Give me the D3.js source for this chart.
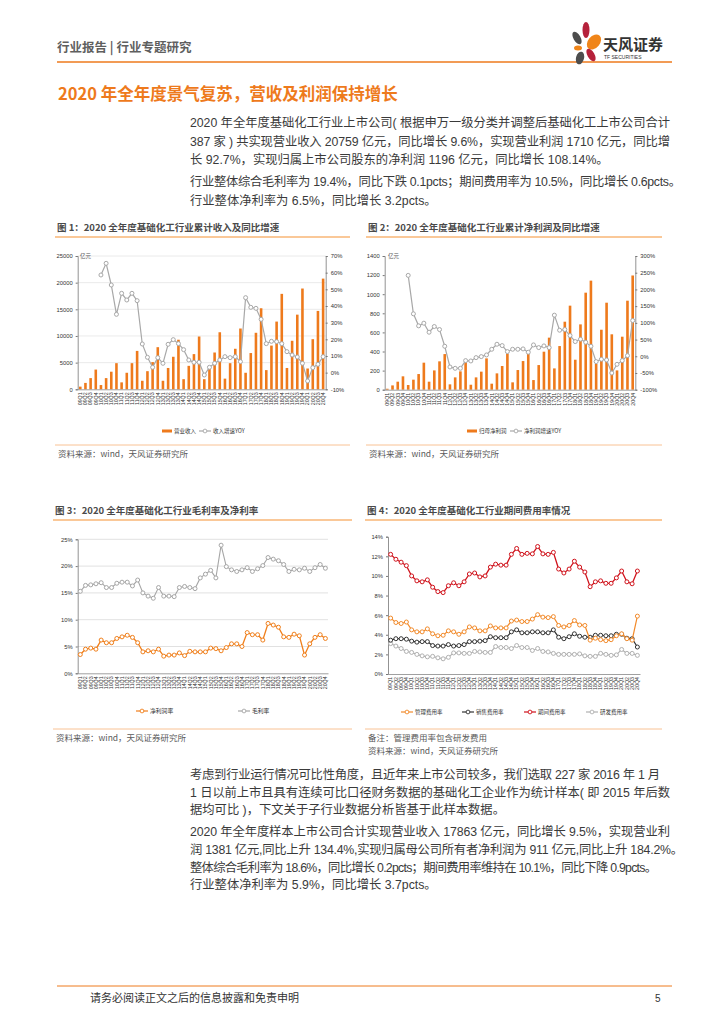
<!DOCTYPE html>
<html><head><meta charset="utf-8">
<script src="https://cdn.jsdelivr.net/npm/d3@7/dist/d3.min.js"></script>
<style>body{margin:0;background:#fff}svg{display:block}</style>
</head><body>
<script>
const quarters = ["09Q1","09Q2","09Q3","09Q4","10Q1","10Q2","10Q3","10Q4","11Q1","11Q2","11Q3","11Q4",
"12Q1","12Q2","12Q3","12Q4","13Q1","13Q2","13Q3","13Q4","14Q1","14Q2","14Q3","14Q4",
"15Q1","15Q2","15Q3","15Q4","16Q1","16Q2","16Q3","16Q4","17Q1","17Q2","17Q3","17Q4",
"18Q1","18Q2","18Q3","18Q4","19Q1","19Q2","19Q3","19Q4","20Q1","20Q2","20Q3","20Q4"];
const revenue = [500,1200,2100,3700, 800,2100,3300,4900, 1300,3100,4900,7200, 1600,3400,5100,7900,
1600,4000,6100,9300, 1900,4400,6600,9900, 1900,3800,6900,10700, 2000,4900,7600,11400,
3100,6800,10600,15200, 3600,8200,12700,17900, 4000,9100,14000,18900, 3900,9400,14700,20759];
const revenueYoY = [null,null,null,null, 58.6,65.6,52.6,35, 47.6,43.6,47.6,43.2, 17.2,9.2,3.2,9,
5.6,17,19.8,17.4, 13.8,7.6,6.2,6.2, -1.4,3.2,5.6,7.6, 9.6,9,9.6,6.6, 45,39.2,38.6,32,
17.4,18.8,18.6,17.4, 12.6,10.6,9.4,5.6, -5,3,5,9.6];
const profit = [10,45,84,140, 49,105,164,283, 84,202,297,373, 56,129,192,286, 52,129,189,328,
63,171,248,377, 77,206,300,380, 101,258,398,545, 223,457,712,880, 314,684,1016,1142,
270,628,911,580, 202,555,932,1196];
const profitYoY = [null,null,null,null, 242,127,91,99, 72,89,80,30, -32,-36,-36,-13, -14,-4,-1,4,
21,36,32,14, 21,21,22,12, 34,26,31,26, 123,78,80,62, 44,51,42,30, -16,-9,-11,-50, -24,-13,2,107];
const grossMargin = [15.3,16.4,16.5,16.7,16.9,16.0,16.0,16.8,17.0,17.0,16.3,17.4,15.0,14.4,14.0,16.0,
14.4,14.4,14.3,16.0,16.2,16.0,15.8,17.8,18.5,19.2,17.8,23.9,19.9,19.3,19.0,19.3,19.7,19.0,19.5,20.1,
21.6,21.3,21.0,20.3,19.0,19.4,19.3,19.6,19.0,19.7,20.3,19.6];
const netMargin = [3.5,4.5,4.7,4.5,6.2,5.7,5.7,6.5,6.8,7.1,6.7,5.7,4.0,4.2,4.0,4.5,3.2,3.4,3.4,3.8,
3.3,4.1,4.0,4.0,4.0,4.7,4.6,4.2,4.8,5.5,5.5,5.0,7.6,7.2,7.2,6.2,9.3,9.0,8.6,6.8,6.7,7.3,7.0,3.4,
5.5,6.7,7.2,6.5];
const periodRate = [12.2,11.7,11.4,11.05,10.0,9.5,9.4,9.6,8.85,8.4,8.3,9.0,9.3,9.0,9.4,10.2,10.3,9.9,10.0,
10.9,11.2,11.1,11.1,12.2,12.8,12.2,12.3,12.25,13.0,12.25,12.2,12.4,10.7,10.3,10.7,11.5,10.9,10.4,
8.9,9.4,9.5,9.25,9.25,9.8,10.5,9.4,9.2,10.5];
const mgmtRate = [5.7,5.25,5.15,5.3,4.5,4.3,4.3,4.6,4.1,3.9,3.95,4.4,4.3,4.05,4.3,4.8,4.7,4.4,4.4,4.9,
4.7,4.7,4.7,5.4,5.5,5.35,5.35,5.6,6.05,5.8,5.75,5.85,4.95,4.8,4.95,5.45,5.0,4.95,3.45,3.65,3.5,3.4,
3.5,3.9,4.1,3.6,3.45,5.9];
const salesRate = [3.45,3.6,3.6,3.55,3.35,3.25,3.3,3.3,2.9,2.85,2.85,3.0,2.85,2.9,3.0,3.3,3.3,3.35,3.4,
3.8,3.7,3.7,3.7,4.3,4.5,4.2,4.2,4.3,4.3,4.2,4.2,4.5,3.75,3.6,3.8,4.1,3.85,3.75,3.75,3.95,3.95,3.9,
3.9,4.05,4.05,3.65,3.6,2.75];
const rdRate = [3.1,2.85,2.6,2.3,2.2,2.0,1.85,1.75,1.8,1.65,1.55,1.7,2.15,2.15,2.1,2.1,2.3,2.25,2.2,2.2,
2.8,2.7,2.7,2.6,2.9,2.7,2.7,2.4,2.6,2.3,2.25,2.1,2.0,2.0,2.0,2.0,2.05,1.85,1.8,1.8,2.1,2.0,1.9,1.95,
2.5,2.1,2.1,1.9];
const revTicks = [0,5000,10000,15000,20000,25000];
const revYoYTicks = [-10,0,10,20,30,40,50,60,70];
const profitTicks = [0,200,400,600,800,1000,1200,1400];
const profitYoYTicks = [-100,-50,0,50,100,150,200,250,300];
const marginTicks = [0,5,10,15,20,25];
const expenseTicks = [0,2,4,6,8,10,12,14];

const CJK = "'Noto Sans CJK SC','Noto Sans',sans-serif";
const BODY = "'Liberation Sans','Noto Sans CJK SC',sans-serif";
const LAT = "'Liberation Sans','DejaVu Sans',sans-serif";
const ORANGE = "#EE7A1C", GRAY = "#A8A8A8";

const svg = d3.select("body").append("svg").attr("width",724).attr("height",1024);
svg.append("rect").attr("width",724).attr("height",1024).attr("fill","#fff");

// ---------- header ----------
svg.append("text").attr("x",57).attr("y",52).attr("font-family",CJK).attr("font-size",12.5)
  .attr("font-weight",700).attr("fill","#5f5f5f").text("行业报告 | 行业专题研究");
svg.append("line").attr("x1",57).attr("x2",672).attr("y1",62).attr("y2",62).attr("stroke",ORANGE).attr("stroke-width",1.5);
const logo = svg.append("g");
[[577,38,3.5,7,-30,"#4d4d4d"],[586,30,3.5,8,0,"#b5213b"],[594,42,6,8.5,40,"#f08519"],
 [578,48,4,2.5,0,"#f08519"],[591,55,3.5,7,-30,"#b5213b"],[580,58,4,6.5,15,"#4d4d4d"]].forEach(p=>{
  logo.append("ellipse").attr("cx",p[0]).attr("cy",p[1]).attr("rx",p[2]).attr("ry",p[3])
   .attr("transform",`rotate(${p[4]},${p[0]},${p[1]})`).attr("fill",p[5]);
});
svg.append("text").attr("x",603).attr("y",50).attr("font-family",CJK).attr("font-size",15).attr("font-weight",700)
  .attr("fill","#333").text("天风证券");
svg.append("text").attr("x",604).attr("y",59).attr("font-family",LAT).attr("font-size",5).attr("fill","#333").text("TF SECURITIES");

svg.append("text").attr("x",58).attr("y",100).attr("font-family",CJK).attr("font-size",16.5).attr("font-weight",700)
  .attr("fill",ORANGE).text("2020 年全年度景气复苏，营收及利润保持增长");

// ---------- body text ----------
function para(lines, x, y0, lh, size){
  lines.forEach((l,i)=>{
    const t = svg.append("text").attr("x",x).attr("y",y0+i*lh).attr("font-family",BODY).attr("font-size",size)
      .attr("fill","#3a3a3a").text(l[0]);
    if(l[1]) t.attr("textLength",l[1]-x).attr("lengthAdjust","spacing");
  });
}
para([["2020 年全年度基础化工行业上市公司( 根据申万一级分类并调整后基础化工上市公司合计",670],
      ["387 家 ) 共实现营业收入 20759 亿元，同比增长 9.6%，实现营业利润 1710 亿元，同比增",670],
      ["长 92.7%，实现归属上市公司股东的净利润 1196 亿元，同比增长 108.14%。"]],190,127,18.5,12.3);
para([["行业整体综合毛利率为 19.4%，同比下跌 0.1pcts；期间费用率为 10.5%，同比增长 0.6pcts。",681],
      ["行业整体净利率为 6.5%，同比增长 3.2pcts。"]],190,186,18.5,12.3);
para([["考虑到行业运行情况可比性角度，且近年来上市公司较多，我们选取 227 家 2016 年 1 月",660],
      ["1 日以前上市且具有连续可比口径财务数据的基础化工企业作为统计样本( 即 2015 年后数",670],
      ["据均可比 )，下文关于子行业数据分析皆基于此样本数据。"]],190,779,17.5,12.3);
para([["2020 年全年度样本上市公司合计实现营业收入 17863 亿元，同比增长 9.5%，实现营业利",670],
      ["润 1381 亿元,同比上升 134.4%,实现归属母公司所有者净利润为 911 亿元,同比上升 184.2%。",683],
      ["整体综合毛利率为 18.6%，同比增长 0.2pcts；期间费用率维持在 10.1%，同比下降 0.9pcts。",657],
      ["行业整体净利率为 5.9%，同比增长 3.7pcts。"]],190,836,17.8,12.3);

// ---------- footer ----------
svg.append("line").attr("x1",57).attr("x2",672).attr("y1",986).attr("y2",986).attr("stroke",ORANGE).attr("stroke-width",1);
svg.append("text").attr("x",90).attr("y",1002).attr("font-family",CJK).attr("font-size",11).attr("fill","#333")
  .text("请务必阅读正文之后的信息披露和免责申明");
svg.append("text").attr("x",655).attr("y",1002).attr("font-family",LAT).attr("font-size",10).attr("fill","#333").text("5");

// ---------- chart frames ----------
function frame(title, x1, x2, yT, yLine, yBottomLine, notes){
  svg.append("text").attr("x",x1+2).attr("y",yT).attr("font-family",CJK).attr("font-size",9.5).attr("font-weight",700)
    .attr("fill","#4a4a4a").text(title);
  svg.append("line").attr("x1",x1).attr("x2",x2).attr("y1",yLine).attr("y2",yLine).attr("stroke","#FAC898").attr("stroke-width",2);
  svg.append("line").attr("x1",x1).attr("x2",x2).attr("y1",yBottomLine).attr("y2",yBottomLine).attr("stroke","#F7B27A").attr("stroke-width",0.8);
  notes.forEach((n,i)=>svg.append("text").attr("x",x1+3).attr("y",yBottomLine+12+i*13).attr("font-family",CJK)
     .attr("font-size",8.5).attr("fill","#595959").text(n));
}
const SRC = "资料来源：wind，天风证券研究所";
frame("图 1：2020 全年度基础化工行业累计收入及同比增速",55,350,231,237,445,[SRC]);
frame("图 2：2020 全年度基础化工行业累计净利润及同比增速",366,662,231,237,445,[SRC]);
frame("图 3：2020 全年度基础化工行业毛利率及净利率",53,352,514,520,729,[SRC]);
frame("图 4：2020 全年度基础化工行业期间费用率情况",365,662,514,520,729,["备注：管理费用率包含研发费用",SRC]);

// ---------- chart helpers ----------
function xAxis(g, x, yB){
  const ax = g.append("g").attr("transform",`translate(0,${yB})`).call(d3.axisBottom(x).tickSize(0));
  ax.select(".domain").attr("stroke","#888").attr("stroke-width",0.8);
  ax.selectAll("text").attr("transform","rotate(-90)").attr("x",-3).attr("y",0).attr("dy","0.35em")
    .style("text-anchor","end").attr("font-family",LAT).attr("font-size",5.3).attr("fill","#333");
}
function yAxis(g, y, xPos, ticks, fmt, side, grid, gx1, gx2){
  if(grid){
    g.append("g").selectAll("line").data(ticks.filter(t=>t!==ticks[0])).join("line")
      .attr("x1",gx1).attr("x2",gx2).attr("y1",d=>y(d)).attr("y2",d=>y(d)).attr("stroke",grid).attr("stroke-width",0.8);
  }
  const gen = side==="left" ? d3.axisLeft(y) : d3.axisRight(y);
  const ax = g.append("g").attr("transform",`translate(${xPos},0)`).call(gen.tickValues(ticks).tickSize(2).tickFormat(fmt));
  ax.select(".domain").attr("stroke","#777").attr("stroke-width",0.8);
  ax.selectAll(".tick line").attr("stroke","#777");
  ax.selectAll("text").attr("font-family",LAT).attr("font-size",5.8).attr("fill","#333");
}
function lineSeries(g, x, y, data, color, width){
  const pts = data.map((v,i)=>({q:quarters[i],v})).filter(d=>d.v!==null);
  g.append("path").datum(pts).attr("fill","none").attr("stroke",color).attr("stroke-width",width||1.2)
    .attr("d",d3.line().x(d=>x(d.q)+x.bandwidth()/2).y(d=>y(d.v)));
  g.append("g").selectAll("circle").data(pts).join("circle").attr("cx",d=>x(d.q)+x.bandwidth()/2).attr("cy",d=>y(d.v))
    .attr("r",2).attr("fill","#fff").attr("stroke",color).attr("stroke-width",1);
}
function legendLine(g, x, y, color, label, size){
  g.append("line").attr("x1",x).attr("x2",x+12).attr("y1",y).attr("y2",y).attr("stroke",color).attr("stroke-width",1.2);
  g.append("circle").attr("cx",x+6).attr("cy",y).attr("r",1.9).attr("fill","#fff").attr("stroke",color).attr("stroke-width",0.9);
  g.append("text").attr("x",x+14).attr("y",y).attr("dy","0.35em").attr("font-family",CJK).attr("font-size",size||5.5)
    .attr("fill","#333").text(label);
}
function legendBar(g, x, y, color, label){
  g.append("rect").attr("x",x).attr("y",y-1.5).attr("width",10).attr("height",3).attr("fill",color);
  g.append("text").attr("x",x+12).attr("y",y).attr("dy","0.35em").attr("font-family",CJK).attr("font-size",5.5)
    .attr("fill","#333").text(label);
}

// ---------- Chart 1 ----------
(function(){
  const g = svg.append("g");
  const x = d3.scaleBand().domain(quarters).range([77.7,325.7]).paddingInner(0.5).paddingOuter(0.25);
  const y = d3.scaleLinear().domain([0,25000]).range([389.3,256]);
  const y2 = d3.scaleLinear().domain([-10,70]).range([389.3,256]);
  yAxis(g,y,77.7,revTicks,d3.format("d"),"left","#e4e4e4",77.7,325.7);
  yAxis(g,y2,325.7,revYoYTicks,d=>d+"%","right");
  g.append("g").selectAll("rect").data(revenue).join("rect").attr("x",(d,i)=>x(quarters[i])).attr("width",x.bandwidth())
    .attr("y",d=>y(d)).attr("height",d=>y(0)-y(d)).attr("fill",ORANGE);
  xAxis(g,x,389.3);
  lineSeries(g,x,y2,revenueYoY,GRAY,1.2);
  g.append("text").attr("x",80).attr("y",258).attr("font-family",CJK).attr("font-size",5.5).attr("fill","#555").text("亿元");
  legendBar(g,162,431,ORANGE,"营业收入");
  legendLine(g,199,431,GRAY,"收入增速YOY");
})();

// ---------- Chart 2 ----------
(function(){
  const g = svg.append("g");
  const x = d3.scaleBand().domain(quarters).range([384.7,635.3]).paddingInner(0.5).paddingOuter(0.25);
  const y = d3.scaleLinear().domain([0,1400]).range([389.7,256]);
  const y2 = d3.scaleLinear().domain([-100,300]).range([389.7,256]);
  yAxis(g,y,384.7,profitTicks,d3.format("d"),"left");
  yAxis(g,y2,635.3,profitYoYTicks,d=>d+"%","right");
  g.append("g").selectAll("rect").data(profit).join("rect").attr("x",(d,i)=>x(quarters[i])).attr("width",x.bandwidth())
    .attr("y",d=>y(d)).attr("height",d=>y(0)-y(d)).attr("fill",ORANGE);
  xAxis(g,x,389.7);
  lineSeries(g,x,y2,profitYoY,GRAY,1.2);
  g.append("text").attr("x",388).attr("y",258).attr("font-family",CJK).attr("font-size",5.5).attr("fill","#555").text("亿元");
  legendBar(g,467,431,ORANGE,"归母净利润");
  legendLine(g,510,431,GRAY,"净利润增速YOY");
})();

// ---------- Chart 3 ----------
(function(){
  const g = svg.append("g");
  const x = d3.scaleBand().domain(quarters).range([77.7,328]);
  const y = d3.scaleLinear().domain([0,25]).range([673.3,539.3]);
  yAxis(g,y,77.7,marginTicks,d=>d+"%","left","#d9d9d9",77.7,328);
  xAxis(g,x,673.3);
  lineSeries(g,x,y,grossMargin,"#A6A6A6",1.1);
  lineSeries(g,x,y,netMargin,"#F07F1B",1.3);
  legendLine(g,136,711,"#F07F1B","净利润率",5.8);
  legendLine(g,238,711,"#A6A6A6","毛利率",5.8);
})();

// ---------- Chart 4 ----------
(function(){
  const g = svg.append("g");
  const x = d3.scaleBand().domain(quarters).range([388,640]);
  const y = d3.scaleLinear().domain([0,14]).range([674,536.7]);
  yAxis(g,y,388,expenseTicks,d=>d+"%","left");
  xAxis(g,x,674);
  lineSeries(g,x,y,rdRate,"#B0B0B0",1.1);
  lineSeries(g,x,y,salesRate,"#333333",1.2);
  lineSeries(g,x,y,mgmtRate,"#F28A2A",1.2);
  lineSeries(g,x,y,periodRate,"#D0121B",1.3);
  legendLine(g,401,712,"#F28A2A","管理费用率",5.5);
  legendLine(g,462,712,"#333333","销售费用率",5.5);
  legendLine(g,524,712,"#D0121B","期间费用率",5.5);
  legendLine(g,586,712,"#B0B0B0","研发费用率",5.5);
})();
</script>
</body></html>
